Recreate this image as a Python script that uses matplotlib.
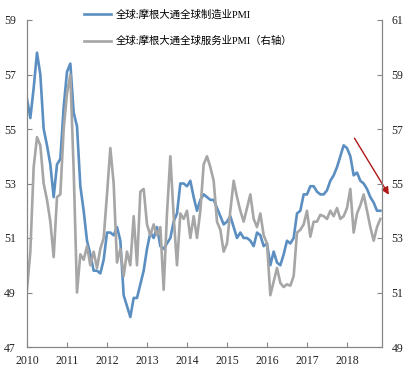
import matplotlib
matplotlib.use("Agg")
import matplotlib.pyplot as plt
from matplotlib.lines import Line2D

# monthly data, Jan 2010 - Nov 2018
mfg_pmi = [
    56.1, 55.4, 56.5, 57.8, 57.0, 55.0, 54.4, 53.7, 52.5, 53.7, 53.9, 55.8,
    57.1, 57.4, 55.6, 55.1, 52.9, 52.0, 50.9, 50.4, 49.8, 49.8, 49.7, 50.2,
    51.2, 51.2, 51.1, 51.4, 50.9, 48.9, 48.5, 48.1, 48.8, 48.8, 49.3, 49.8,
    50.6, 51.2, 51.0, 51.4, 50.7, 50.6, 50.8, 51.0, 51.6, 51.9, 53.0, 53.0,
    52.9, 53.1, 52.5, 52.0, 52.4, 52.6, 52.5, 52.4, 52.4, 52.1, 51.8, 51.5,
    51.6, 51.8, 51.4, 51.0, 51.2, 51.0, 51.0, 50.9, 50.7, 51.2, 51.1, 50.7,
    50.8, 50.0, 50.5, 50.1, 50.0, 50.4, 50.9, 50.8, 51.0, 51.9, 52.0, 52.6,
    52.6, 52.9, 52.9, 52.7, 52.6, 52.6, 52.75, 53.1, 53.3, 53.6, 54.0, 54.4,
    54.3, 54.0, 53.3, 53.4, 53.1, 53.0, 52.8, 52.5, 52.3, 52.0, 52.0,
]
svc_pmi = [
    51.1, 52.5, 55.6, 56.7, 56.4, 55.0, 54.4, 53.6, 52.3, 54.5, 54.6, 57.0,
    58.3, 59.0, 55.5, 51.0, 52.4, 52.2, 52.7, 52.0, 52.5, 51.9, 52.6, 53.0,
    54.6, 56.3, 55.0, 52.1, 52.6, 51.6, 52.5, 52.0, 53.8, 52.0, 54.7, 54.8,
    53.5, 53.1, 53.5, 53.1, 53.4, 51.1, 53.9, 56.0, 53.8, 52.0, 53.9, 53.7,
    54.0, 53.0, 53.8, 53.0, 54.0, 55.7, 56.0, 55.6, 55.1, 53.6, 53.3, 52.5,
    52.8, 54.0, 55.1, 54.5, 54.0, 53.6, 54.1, 54.6, 53.7, 53.4, 53.9, 53.1,
    52.8, 50.9, 51.4, 51.9, 51.35, 51.2, 51.3, 51.25, 51.6, 53.2, 53.3, 53.5,
    54.0, 53.05, 53.6, 53.6, 53.85, 53.8, 53.7, 54.0, 53.8, 54.1, 53.7, 53.8,
    54.1, 54.8, 53.2, 53.9, 54.2, 54.6, 54.0, 53.4, 52.9, 53.4, 53.7,
]
years = ["2010", "2011", "2012", "2013", "2014", "2015", "2016", "2017", "2018"]
left_ticks = [47, 49, 51, 53, 55, 57, 59]
right_ticks = [49, 51, 53, 55, 57, 59, 61]
labels = ["全球:摩根大通全球制造业PMI", "全球:摩根大通全球服务业PMI（右轴）"]

blue = "#5B8EC1"
grey = "#A6A6A6"
spine_c = "#868686"
num_font = "Liberation Serif"
txt_font = ["Liberation Serif", "Noto Sans CJK SC"]

fig = plt.figure(figsize=(4.09, 3.87), dpi=100)
ax = fig.add_axes([27 / 409, 1 - 347 / 387, 355 / 409, 327 / 387])
ax2 = ax.twinx()

months = list(range(len(mfg_pmi)))
ax.plot(months, mfg_pmi, color=blue, lw=1.9)
ax2.plot(months, svc_pmi, color=grey, lw=1.9)

ax.set_xlim(0, 106.5)
ax.set_ylim(47, 59)
ax2.set_ylim(49, 61)
ax.set_xticks(range(0, 12 * len(years), 12))
ax.set_xticklabels(years)
ax.set_yticks(left_ticks)
ax2.set_yticks(right_ticks)

for a in (ax, ax2):
    a.spines["top"].set_visible(False)
    for s in ("left", "right", "bottom"):
        a.spines[s].set_color(spine_c)
    a.tick_params(direction="in", length=3.5, color=spine_c, labelsize=8.5,
                  labelcolor="#222222")
    for t in a.get_xticklabels() + a.get_yticklabels():
        t.set_fontfamily(num_font)
ax.tick_params(axis="x", pad=6)
ax.tick_params(axis="y", pad=8)
ax2.tick_params(axis="y", pad=7)

# downward trend arrow
ax.annotate("", xy=(109, 52.5), xytext=(97.8, 54.75),
            arrowprops=dict(arrowstyle="-|>", color="#B01818", lw=1.0,
                            mutation_scale=11),
            annotation_clip=False)

handles = [Line2D([], [], color=blue, lw=1.9), Line2D([], [], color=grey, lw=1.9)]
fig.legend(handles, labels, loc="upper left", bbox_to_anchor=(75 / 409, 1 - 0 / 387),
           frameon=False, prop={"family": txt_font, "size": 7.5},
           handlelength=2.6, handletextpad=0.4, labelspacing=1.55)

fig.savefig("out.png", dpi=100)
